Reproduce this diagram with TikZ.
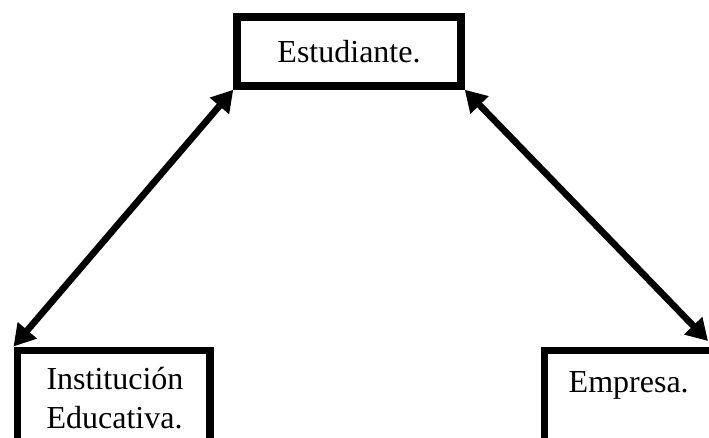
\documentclass[tikz,border=0pt]{standalone}
\usepackage{fontspec}
\setmainfont{Liberation Serif}
\usetikzlibrary{arrows.meta}
\tikzset{
	caja/.style={draw, line width=5.6pt, rectangle, font=\fontsize{24}{29}\selectfont},
	flecha/.style={{Triangle[length=16pt,width=18pt]}-{Triangle[length=16pt,width=18pt]}, line width=5pt}
}
\begin{document}
\begin{tikzpicture}[x=0.75pt, y=-0.75pt]
	\useasboundingbox (0,0) rectangle (709,438);
	\clip (0,0) rectangle (709,438);
	\node[caja, minimum width=168pt, minimum height=51.75pt] (est) at (349,51.5) {Estudiante.};
	\node[caja, anchor=north west, align=left, inner xsep=22pt, inner ysep=13pt, text width=100.5pt, text depth=30pt] (inst) at (13.5,346.5) {Instituci\'on\\Educativa.};
	\node[caja, anchor=north west, inner xsep=18pt, inner ysep=16pt, text width=160pt, text height=16pt, text depth=50pt] (emp) at (541,346.5) {Empresa.};
	\coordinate (esq) at (708,341);
	
	\draw[flecha] (est.south west) -- (inst.north west);
	\draw[flecha] (est.south east) -- (esq);
\end{tikzpicture}
\end{document}
